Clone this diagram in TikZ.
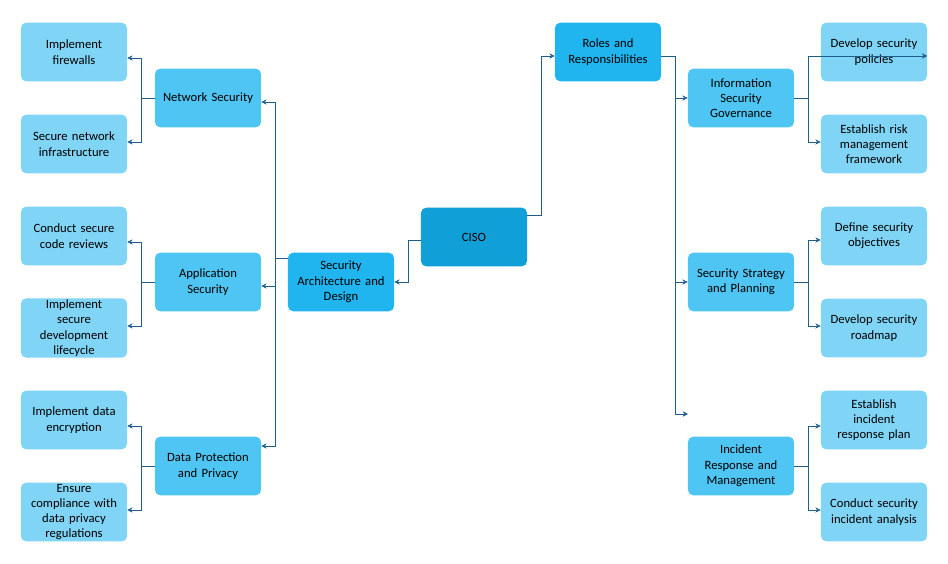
\documentclass[tikz,border=0pt]{standalone}
\usepackage{fontspec}
\setmainfont{Carlito}
\usetikzlibrary{arrows.meta,positioning}
\definecolor{cisoblue}{HTML}{109FD7}
\definecolor{midblue}{HTML}{20B5EF}
\definecolor{lvlblue}{HTML}{4EC5F2}
\definecolor{leafblue}{HTML}{80D4F6}
\definecolor{linkblue}{HTML}{1F5E8C}
\begin{document}
\begin{tikzpicture}[x=0.0264cm,y=-0.0264cm,
    box/.style={rectangle, rounded corners=4pt, minimum width=2.8cm, minimum height=1.55cm, text width=2.6cm, align=center, font=\fontsize{9.5}{11.5}\selectfont, inner sep=1pt},
    link/.style={-{Stealth[length=4pt,width=4pt]}, draw=linkblue, thin}]
    \useasboundingbox (0,0) rectangle (948,564);

    \node[box, fill=cisoblue] (ciso) at (474,237) {CISO};
    \node[box, fill=midblue] (roles) at (608,52) {Roles and\\Responsibilities};
    \node[box, fill=midblue] (arch) at (341,282) {Security\\Architecture and\\Design};

    \node[box, fill=lvlblue] (net) at (208,98) {Network Security};
    \node[box, fill=lvlblue] (app) at (208,282) {Application\\Security};
    \node[box, fill=lvlblue] (data) at (208,466) {Data Protection\\and Privacy};

    \node[box, fill=lvlblue] (gov) at (741,98) {Information\\Security\\Governance};
    \node[box, fill=lvlblue] (strat) at (741,282) {Security Strategy\\and Planning};
    \node[box, fill=lvlblue] (incident) at (741,466) {Incident\\Response and\\Management};

    \node[box, fill=leafblue] (fw) at (74,52) {Implement\\firewalls};
    \node[box, fill=leafblue] (infra) at (74,144) {Secure network\\infrastructure};
    \node[box, fill=leafblue] (review) at (74,236) {Conduct secure\\code reviews};
    \node[box, fill=leafblue] (sdlc) at (74,328) {Implement\\secure\\development\\lifecycle};
    \node[box, fill=leafblue] (encrypt) at (74,420) {Implement data\\encryption};
    \node[box, fill=leafblue] (comply) at (74,512) {Ensure\\compliance with\\data privacy\\regulations};

    \node[box, fill=leafblue] (policy) at (874,52) {Develop security\\policies};
    \node[box, fill=leafblue] (risk) at (874,144) {Establish risk\\management\\framework};
    \node[box, fill=leafblue] (obj) at (874,236) {Define security\\objectives};
    \node[box, fill=leafblue] (road) at (874,328) {Develop security\\roadmap};
    \node[box, fill=leafblue] (plan) at (874,420) {Establish\\incident\\response plan};
    \node[box, fill=leafblue] (analysis) at (874,512) {Conduct security\\incident analysis};

    \coordinate (incin) at (688,414);

    % top level
    \draw[link] (ciso.east |- 0,215) -- (541,215) |- (roles.west |- 0,56);
    \draw[link] (ciso.west |- 0,240) -- (408,240) |- (arch.east);

    % left side
    \draw[link] (arch.west |- 0,258) -- (275,258) |- (net.east |- 0,102);
    \draw[link] (275,258) |- (app.east |- 0,286);
    \draw[link] (275,258) |- (data.east |- 0,446);
    \draw[link] (net.west) -- (141,98) |- (fw.east |- 0,58);
    \draw[link] (141,98) |- (infra.east |- 0,142);
    \draw[link] (app.west) -- (141,282) |- (review.east |- 0,242);
    \draw[link] (141,282) |- (sdlc.east |- 0,326);
    \draw[link] (data.west) -- (141,466) |- (encrypt.east |- 0,426);
    \draw[link] (141,466) |- (comply.east |- 0,510);

    % right side
    \draw[link] (roles.east |- 0,56) -- (675,56) |- (gov.west);
    \draw[link] (675,56) |- (strat.west);
    \draw[link] (675,56) |- (incin);
    \draw[link] (gov.east) -- (808,98) |- (policy.east |- 821,56);
    \draw[link] (808,98) |- (risk.west |- 0,142);
    \draw[link] (strat.east) -- (808,282) |- (obj.west |- 0,240);
    \draw[link] (808,282) |- (road.west |- 0,326);
    \draw[link] (incident.east) -- (808,466) |- (plan.west |- 0,426);
    \draw[link] (808,466) |- (analysis.west |- 0,510);
\end{tikzpicture}
\end{document}
